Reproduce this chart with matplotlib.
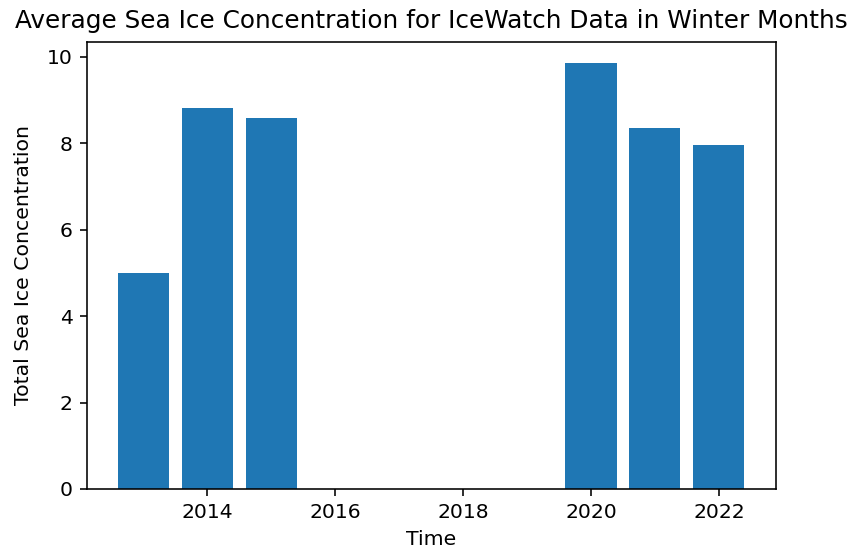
import matplotlib
matplotlib.use("Agg")
import matplotlib.pyplot as plt

# Winter-month averages of total sea ice concentration (IceWatch)
years = [2013, 2014, 2015, 2020, 2021, 2022]
concentration = [5.0, 8.82, 8.58, 9.86, 8.35, 7.96]

W, H, DPI = 849, 552, 144
fig = plt.figure(figsize=(W / DPI, H / DPI), dpi=DPI)
ax = fig.add_axes([86.7 / W, (H - 489) / H, (775.7 - 86.7) / W, (489 - 41.7) / H])

ax.bar(years, concentration, color="#1f77b4")
ax.tick_params(labelsize=10.2)
ax.set_title("Average Sea Ice Concentration for IceWatch Data in Winter Months",
             fontsize=12.4, pad=7)
ax.set_xlabel("Time", fontsize=10.2)
ax.set_ylabel("Total Sea Ice Concentration", fontsize=10.2, labelpad=7)

fig.savefig("out.png", dpi=DPI)
